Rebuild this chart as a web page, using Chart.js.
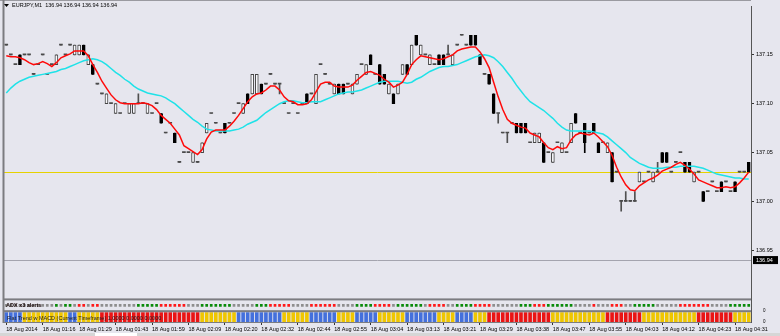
<!DOCTYPE html>
<html>
<head>
<meta charset="utf-8">
<script src="https://cdn.jsdelivr.net/npm/chart.js@4.4.1/dist/chart.umd.min.js"></script>
<style>
  html, body { margin: 0; padding: 0; background: #e6e6ee; }
  #wrap { width: 780px; height: 336px; }
</style>
</head>
<body>
<div id="wrap"><canvas id="chart" width="780" height="336"></canvas></div>
<script>
// EURJPY M1 candles, 18 Aug 2014, with two moving averages and two indicator panes
const symbol = "EURJPY,M1";
const quote = [136.94, 136.94, 136.94, 136.94];
const bidPrice = 136.94;
const levelPrice = 137.03;
const priceTicks = [136.95, 137.0, 137.05, 137.1, 137.15];

// one label every 8 bars
const timeLabels = [
  "18 Aug 2014", "18 Aug 01:16", "18 Aug 01:29", "18 Aug 01:43", "18 Aug 01:59",
  "18 Aug 02:09", "18 Aug 02:20", "18 Aug 02:32", "18 Aug 02:44", "18 Aug 02:55",
  "18 Aug 03:04", "18 Aug 03:13", "18 Aug 03:21", "18 Aug 03:29", "18 Aug 03:38",
  "18 Aug 03:47", "18 Aug 03:55", "18 Aug 04:03", "18 Aug 04:12", "18 Aug 04:23",
  "18 Aug 04:31",
];

const opens = [
  137.16, 137.15, 137.14, 137.15, 137.15, 137.15, 137.13, 137.14, 137.15, 137.13,
  137.14, 137.14, 137.16, 137.15, 137.16, 137.15, 137.15, 137.16, 137.14, 137.14,
  137.12, 137.11, 137.10, 137.10, 137.09, 137.09, 137.10, 137.09, 137.09, 137.10,
  137.10, 137.09, 137.09, 137.10, 137.09, 137.07, 137.08, 137.07, 137.04, 137.05,
  137.05, 137.04, 137.04, 137.05, 137.07, 137.09, 137.08, 137.07, 137.08, 137.08,
  137.09, 137.10, 137.09, 137.11, 137.11, 137.11, 137.12, 137.12, 137.13, 137.12,
  137.12, 137.10, 137.09, 137.10, 137.09, 137.10, 137.11, 137.11, 137.10, 137.14,
  137.13, 137.12, 137.11, 137.12, 137.12, 137.12, 137.11, 137.12, 137.14, 137.13,
  137.15, 137.13, 137.14, 137.13, 137.11, 137.11, 137.11, 137.13, 137.14, 137.14,
  137.17, 137.15, 137.15, 137.14, 137.14, 137.15, 137.15, 137.15, 137.14, 137.16,
  137.17, 137.16, 137.17, 137.17, 137.15, 137.13, 137.13, 137.11, 137.09, 137.07,
  137.07, 137.08, 137.08, 137.08, 137.08, 137.06, 137.06, 137.06, 137.06, 137.05,
  137.04, 137.06, 137.05, 137.05, 137.06, 137.09, 137.07, 137.08, 137.07, 137.08,
  137.06, 137.06, 137.05, 137.05, 137.03, 137.00, 137.00, 137.00, 137.00, 137.02,
  137.02, 137.03, 137.02, 137.03, 137.05, 137.05, 137.03, 137.04, 137.05, 137.04,
  137.04, 137.02, 137.03, 137.01, 137.01, 137.02, 137.01, 137.02, 137.02, 137.01,
  137.02, 137.03, 137.03, 137.04,
];
const closes = [
  137.16, 137.15, 137.14, 137.14, 137.15, 137.15, 137.13, 137.14, 137.15, 137.13,
  137.14, 137.15, 137.16, 137.15, 137.16, 137.16, 137.16, 137.15, 137.15, 137.13,
  137.12, 137.11, 137.11, 137.10, 137.10, 137.09, 137.10, 137.10, 137.10, 137.10,
  137.10, 137.10, 137.09, 137.10, 137.08, 137.07, 137.08, 137.06, 137.04, 137.05,
  137.05, 137.05, 137.04, 137.06, 137.08, 137.09, 137.08, 137.07, 137.07, 137.08,
  137.09, 137.10, 137.10, 137.10, 137.13, 137.13, 137.11, 137.12, 137.13, 137.12,
  137.12, 137.10, 137.09, 137.10, 137.09, 137.10, 137.10, 137.11, 137.13, 137.14,
  137.13, 137.12, 137.12, 137.11, 137.11, 137.12, 137.12, 137.13, 137.14, 137.14,
  137.14, 137.13, 137.12, 137.12, 137.12, 137.10, 137.12, 137.14, 137.13, 137.16,
  137.16, 137.16, 137.15, 137.15, 137.14, 137.14, 137.14, 137.15, 137.15, 137.16,
  137.17, 137.16, 137.16, 137.16, 137.14, 137.13, 137.12, 137.09, 137.09, 137.07,
  137.07, 137.08, 137.07, 137.07, 137.07, 137.06, 137.07, 137.07, 137.04, 137.05,
  137.05, 137.06, 137.06, 137.05, 137.08, 137.08, 137.07, 137.06, 137.07, 137.07,
  137.05, 137.06, 137.06, 137.02, 137.03, 137.00, 137.00, 137.00, 137.00, 137.03,
  137.02, 137.03, 137.03, 137.03, 137.04, 137.04, 137.03, 137.04, 137.05, 137.03,
  137.03, 137.03, 137.03, 137.00, 137.01, 137.02, 137.01, 137.01, 137.02, 137.01,
  137.01, 137.03, 137.03, 137.03,
];
const highs = [
  137.16, 137.15, 137.14, 137.15, 137.15, 137.15, 137.13, 137.14, 137.15, 137.13,
  137.14, 137.15, 137.16, 137.15, 137.16, 137.16, 137.16, 137.16, 137.15, 137.14,
  137.12, 137.11, 137.11, 137.10, 137.10, 137.09, 137.10, 137.10, 137.10, 137.11,
  137.10, 137.10, 137.09, 137.10, 137.09, 137.07, 137.08, 137.07, 137.04, 137.05,
  137.05, 137.05, 137.04, 137.06, 137.08, 137.09, 137.08, 137.07, 137.08, 137.08,
  137.09, 137.10, 137.10, 137.11, 137.13, 137.13, 137.12, 137.12, 137.13, 137.12,
  137.12, 137.10, 137.09, 137.10, 137.09, 137.10, 137.11, 137.11, 137.13, 137.14,
  137.13, 137.12, 137.12, 137.12, 137.12, 137.12, 137.12, 137.13, 137.14, 137.14,
  137.15, 137.13, 137.14, 137.13, 137.12, 137.11, 137.12, 137.14, 137.14, 137.16,
  137.17, 137.16, 137.15, 137.15, 137.14, 137.15, 137.15, 137.16, 137.15, 137.16,
  137.17, 137.16, 137.17, 137.17, 137.15, 137.13, 137.13, 137.11, 137.09, 137.07,
  137.07, 137.08, 137.08, 137.08, 137.08, 137.06, 137.07, 137.07, 137.06, 137.05,
  137.05, 137.06, 137.06, 137.05, 137.08, 137.09, 137.07, 137.08, 137.07, 137.08,
  137.06, 137.06, 137.06, 137.05, 137.03, 137.00, 137.01, 137.00, 137.01, 137.03,
  137.02, 137.03, 137.03, 137.04, 137.05, 137.05, 137.03, 137.04, 137.05, 137.04,
  137.04, 137.03, 137.03, 137.01, 137.01, 137.02, 137.01, 137.02, 137.02, 137.01,
  137.02, 137.03, 137.03, 137.04,
];
const lows = [
  137.16, 137.15, 137.14, 137.14, 137.15, 137.15, 137.13, 137.14, 137.15, 137.13,
  137.14, 137.14, 137.16, 137.15, 137.16, 137.15, 137.15, 137.15, 137.14, 137.13,
  137.12, 137.11, 137.10, 137.10, 137.09, 137.09, 137.10, 137.09, 137.09, 137.10,
  137.10, 137.09, 137.09, 137.10, 137.08, 137.07, 137.08, 137.06, 137.04, 137.05,
  137.05, 137.04, 137.04, 137.05, 137.07, 137.09, 137.08, 137.07, 137.07, 137.08,
  137.09, 137.10, 137.09, 137.10, 137.11, 137.11, 137.11, 137.12, 137.13, 137.12,
  137.11, 137.10, 137.09, 137.10, 137.09, 137.10, 137.10, 137.11, 137.10, 137.14,
  137.13, 137.12, 137.11, 137.11, 137.11, 137.12, 137.11, 137.12, 137.14, 137.13,
  137.14, 137.13, 137.12, 137.12, 137.11, 137.10, 137.11, 137.13, 137.13, 137.14,
  137.16, 137.15, 137.15, 137.14, 137.14, 137.14, 137.14, 137.15, 137.14, 137.16,
  137.17, 137.16, 137.16, 137.16, 137.14, 137.13, 137.12, 137.09, 137.08, 137.07,
  137.06, 137.08, 137.07, 137.07, 137.07, 137.06, 137.06, 137.06, 137.04, 137.05,
  137.04, 137.06, 137.05, 137.05, 137.06, 137.08, 137.07, 137.05, 137.07, 137.07,
  137.05, 137.06, 137.05, 137.02, 137.03, 136.99, 137.00, 137.00, 137.00, 137.02,
  137.02, 137.03, 137.02, 137.03, 137.04, 137.04, 137.03, 137.04, 137.05, 137.03,
  137.03, 137.02, 137.03, 137.00, 137.01, 137.02, 137.01, 137.01, 137.02, 137.01,
  137.01, 137.03, 137.03, 137.03,
];

// red (fast) and cyan (slow) moving averages
const fastMa = [
  137.149, 137.148, 137.148, 137.147, 137.145, 137.142, 137.140, 137.141, 137.143, 137.141,
  137.138, 137.142, 137.147, 137.149, 137.151, 137.154, 137.154, 137.154, 137.149, 137.140,
  137.132, 137.123, 137.116, 137.109, 137.104, 137.101, 137.100, 137.100, 137.100, 137.100,
  137.101, 137.100, 137.098, 137.094, 137.088, 137.084, 137.080, 137.074, 137.068, 137.057,
  137.054, 137.051, 137.048, 137.053, 137.064, 137.071, 137.073, 137.073, 137.073, 137.077,
  137.082, 137.088, 137.095, 137.102, 137.107, 137.110, 137.111, 137.114, 137.118, 137.118,
  137.114, 137.107, 137.103, 137.102, 137.099, 137.099, 137.100, 137.104, 137.112, 137.120,
  137.122, 137.122, 137.118, 137.117, 137.117, 137.117, 137.119, 137.124, 137.128, 137.132,
  137.133, 137.131, 137.129, 137.125, 137.122, 137.117, 137.119, 137.122, 137.130, 137.140,
  137.145, 137.149, 137.148, 137.147, 137.146, 137.145, 137.146, 137.148, 137.150, 137.154,
  137.156, 137.157, 137.158, 137.158, 137.153, 137.146, 137.137, 137.122, 137.107, 137.094,
  137.084, 137.080, 137.078, 137.076, 137.075, 137.070, 137.068, 137.066, 137.060, 137.055,
  137.053, 137.056, 137.054, 137.055, 137.063, 137.068, 137.070, 137.069, 137.068, 137.070,
  137.066, 137.061, 137.056, 137.047, 137.035, 137.025, 137.017, 137.012, 137.011, 137.016,
  137.019, 137.022, 137.024, 137.027, 137.031, 137.033, 137.035, 137.038, 137.040, 137.037,
  137.033, 137.028, 137.022, 137.020, 137.018, 137.016, 137.014, 137.014, 137.015, 137.014,
  137.015, 137.019, 137.024, 137.030,
];
const slowMa = [
  137.111, 137.116, 137.120, 137.123, 137.125, 137.127, 137.128, 137.129, 137.130, 137.131,
  137.132, 137.133, 137.135, 137.136, 137.138, 137.140, 137.142, 137.144, 137.145, 137.146,
  137.145, 137.143, 137.140, 137.136, 137.132, 137.129, 137.125, 137.122, 137.118, 137.115,
  137.113, 137.111, 137.110, 137.109, 137.108, 137.106, 137.103, 137.100, 137.096, 137.092,
  137.088, 137.084, 137.081, 137.077, 137.074, 137.073, 137.072, 137.072, 137.072, 137.072,
  137.073, 137.074, 137.076, 137.079, 137.081, 137.083, 137.087, 137.091, 137.094, 137.097,
  137.100, 137.102, 137.103, 137.103, 137.102, 137.101, 137.101, 137.102, 137.102, 137.102,
  137.104, 137.106, 137.108, 137.110, 137.111, 137.112, 137.112, 137.113, 137.114, 137.116,
  137.118, 137.120, 137.122, 137.123, 137.123, 137.123, 137.123, 137.122, 137.121, 137.122,
  137.125, 137.127, 137.130, 137.133, 137.135, 137.137, 137.138, 137.138, 137.139, 137.140,
  137.142, 137.144, 137.146, 137.148, 137.149, 137.150, 137.149, 137.147, 137.143, 137.138,
  137.132, 137.126, 137.119, 137.113, 137.107, 137.102, 137.099, 137.096, 137.093, 137.089,
  137.085, 137.080, 137.076, 137.073, 137.072, 137.072, 137.072, 137.072, 137.072, 137.071,
  137.070, 137.069, 137.066, 137.062, 137.058, 137.054, 137.050, 137.045, 137.042, 137.039,
  137.037, 137.035, 137.034, 137.034, 137.034, 137.035, 137.035, 137.035, 137.036, 137.036,
  137.036, 137.036, 137.035, 137.034, 137.032, 137.030, 137.028, 137.027, 137.026, 137.025,
  137.024, 137.024, 137.023, 137.023,
];

// ADX x3 alerts: 1 green, -1 red, 0 grey
const adxDots = [
  0, 0, 0, 0, 0, 0, 0, 0, 0, 0,
  0, 1, 0, 1, 1, 0, -1, -1, 0, -1,
  -1, 0, 0, 0, 0, 0, 0, 0, 0, 1,
  1, 1, 1, 1, -1, -1, -1, -1, -1, -1,
  0, 0, 0, 1, 1, 1, 1, 1, 1, 1,
  0, 0, 0, 0, 0, 1, 1, 1, -1, -1,
  -1, -1, -1, 0, 0, 0, 0, -1, -1, -1,
  -1, -1, -1, 0, 0, 0, 0, 1, 1, 1,
  1, -1, -1, -1, -1, 0, 1, 1, 1, 1,
  1, 1, 0, -1, -1, -1, -1, 0, 0, 1,
  1, 1, 1, -1, -1, -1, -1, 0, 0, 0,
  0, 0, 0, 1, 1, 1, -1, -1, -1, 1,
  1, 1, 1, 1, 1, 0, 0, 0, 0, -1,
  0, 0, 0, -1, -1, -1, 0, 0, 1, 1,
  1, 1, 1, 0, 0, 0, 0, 0, -1, -1,
  -1, -1, -1, -1, -1, 0, 0, 0, 0, 1,
  1, 1, 1, 1,
];

// Flat Trend w MACD: 1 up (blue), 0 flat (yellow), -1 down (red)
const trend = [
  1, 1, 1, 1, 0, 0, 0, 0, 0, 0,
  0, 0, 0, 0, 1, 1, 0, 0, 0, 0,
  0, -1, -1, -1, -1, -1, -1, -1, -1, -1,
  -1, -1, -1, -1, -1, -1, -1, -1, -1, -1,
  -1, -1, -1, 0, 0, 0, 0, 0, 0, 0,
  0, 1, 1, 1, 1, 1, 1, 1, 1, 1,
  1, 0, 0, 0, 0, 0, 0, 1, 1, 1,
  1, 1, 1, 0, 0, 0, 0, 1, 1, 1,
  1, 1, 0, 0, 0, 0, 0, 0, 1, 1,
  1, 1, 1, 1, 1, 0, 0, 0, 0, 1,
  1, 1, 1, 0, 0, 0, -1, -1, -1, -1,
  -1, -1, -1, -1, -1, -1, -1, -1, -1, -1,
  0, 0, 0, 0, 0, 0, 0, 0, 0, 0,
  0, 0, -1, -1, -1, -1, -1, -1, -1, -1,
  0, 0, 0, 0, 0, 0, 0, 0, 0, 0,
  0, 0, -1, -1, -1, -1, -1, -1, -1, -1,
  0, 0, 0, 0,
];

const ctx = document.querySelector("#chart").getContext("2d");
const tickFont = { family: "'Liberation Sans', Arial, sans-serif", size: 5.5 };
const bg = "#e6e6ee";

function candleKind(i) {
  if (closes[i] > opens[i]) return "up";
  if (closes[i] < opens[i]) return "down";
  return "doji";
}

const bodyFill = { up: "#f8f8fc", down: "#000000", doji: "#4a4a4a" };
const bodyLine = { up: "#454545", down: "#000000", doji: "#4a4a4a" };
const dotColors = { 1: "#0a8a0a", "-1": "#ff1a1a", 0: "#8e8e8e" };
const trendColors = { 1: "#4470dc", 0: "#efc600", "-1": "#ea1414" };

const mt4Frame = {
  id: "mt4Frame",
  beforeDraw(chart) {
    const c = chart.ctx;
    c.save();
    c.fillStyle = bg;
    c.fillRect(0, 0, chart.width, chart.height);
    c.restore();
  },
  beforeDatasetsDraw(chart) {
    const c = chart.ctx;
    const a = chart.chartArea;
    const y = chart.scales.y;
    c.save();
    c.lineWidth = 1;
    c.strokeStyle = "#e6d200";
    let py = Math.round(y.getPixelForValue(levelPrice)) + 0.5;
    c.beginPath();
    c.moveTo(a.left, py);
    c.lineTo(a.right, py);
    c.stroke();
    c.strokeStyle = "#a4a4ae";
    py = Math.round(y.getPixelForValue(bidPrice)) + 0.5;
    c.beginPath();
    c.moveTo(a.left, py);
    c.lineTo(a.right, py);
    c.stroke();
    c.restore();
  },
  afterDraw(chart) {
    const c = chart.ctx;
    const a = chart.chartArea;
    const y = chart.scales.y;
    const adx = chart.scales.yAdx;
    const tr = chart.scales.yTrend;
    c.save();

    // window frame and pane separators
    c.fillStyle = "#9a9aa0";
    c.fillRect(0, 0, a.right, 1);
    c.fillStyle = "#7c7c80";
    c.fillRect(a.left - 1.5, 0, 2, a.bottom + 1);
    c.fillRect(a.left, y.bottom - 1, a.right - a.left, 2);
    c.fillRect(a.left, adx.bottom - 1, a.right - a.left, 2);

    // terminal tab strip
    c.fillStyle = "#d6d6d6";
    c.fillRect(0, 333, chart.width, 3);
    c.fillStyle = "#ffffff";
    c.fillRect(95, 333, 42, 3);

    // header
    c.fillStyle = "#000";
    c.beginPath();
    c.moveTo(4, 4);
    c.lineTo(9, 4);
    c.lineTo(6.5, 7);
    c.closePath();
    c.fill();
    c.font = "5.5px 'Liberation Sans', Arial, sans-serif";
    c.textBaseline = "middle";
    c.textAlign = "left";
    c.fillText(symbol + "  " + quote.map((q) => q.toFixed(2)).join(" "), 12, 5.5);

    // bid label
    const by = y.getPixelForValue(bidPrice);
    c.fillStyle = "#000";
    c.fillRect(a.right + 2, by - 4, 25, 8);
    c.fillStyle = "#fff";
    c.fillText(bidPrice.toFixed(2), a.right + 5, by + 0.5);

    // indicator names
    c.fillStyle = "#1a0a0a";
    c.font = "bold 5.5px 'Liberation Sans', Arial, sans-serif";
    c.fillText("ADX x3 alerts", a.left + 2, (adx.top + adx.bottom) / 2 + 0.5);
    c.fillStyle = "#1c1c1c";
    c.font = "5.5px 'Liberation Sans', Arial, sans-serif";
    c.fillText("Flat Trend w MACD (Current Timeframe) 1.0000 0.0000 0.0000", a.left + 3, (tr.top + tr.bottom) / 2 + 1.5);

    c.restore();
  },
};

const chart = new Chart(ctx, {
  type: "bar",
  data: {
    labels: opens.map((o, i) => i),
    datasets: [
      {
        label: "wicks",
        data: lows.map((l, i) => [l, highs[i]]),
        backgroundColor: opens.map((o, i) => (candleKind(i) === "down" ? "#000" : "#505050")),
        barThickness: 1,
        grouped: false,
        yAxisID: "y",
        order: 4,
      },
      {
        label: "candles",
        data: opens.map((o, i) => [Math.min(o, closes[i]), Math.max(o, closes[i])]),
        backgroundColor: opens.map((o, i) => bodyFill[candleKind(i)]),
        borderColor: opens.map((o, i) => bodyLine[candleKind(i)]),
        borderWidth: opens.map((o, i) => (candleKind(i) === "doji" ? 0 : 1)),
        borderSkipped: false,
        barThickness: 3,
        minBarLength: 1,
        grouped: false,
        yAxisID: "y",
        order: 3,
      },
      {
        type: "line",
        label: "slow MA",
        data: slowMa,
        borderColor: "#1fe2e8",
        borderWidth: 1.5,
        pointRadius: 0,
        yAxisID: "y",
        order: 2,
      },
      {
        type: "line",
        label: "fast MA",
        data: fastMa,
        borderColor: "#ff0a0a",
        borderWidth: 1.5,
        pointRadius: 0,
        yAxisID: "y",
        order: 1,
      },
      {
        type: "line",
        label: "ADX x3 alerts",
        data: adxDots.map(() => 0.5),
        showLine: false,
        pointStyle: "rect",
        pointRadius: 1.9,
        pointBorderWidth: 0,
        pointBackgroundColor: adxDots.map((d) => dotColors[d]),
        yAxisID: "yAdx",
        order: 1,
      },
      {
        label: "Flat Trend w MACD",
        data: trend.map(() => [0, 1]),
        backgroundColor: trend.map((t) => trendColors[t]),
        barPercentage: 0.8,
        categoryPercentage: 1,
        grouped: false,
        yAxisID: "yTrend",
        order: 5,
      },
    ],
  },
  options: {
    responsive: false,
    animation: false,
    events: [],
    layout: { padding: { left: 2, top: 1, right: 0, bottom: 0 } },
    plugins: { legend: { display: false }, tooltip: { enabled: false } },
    scales: {
      x: {
        type: "category",
        offset: true,
        grid: { display: true, offset: false, drawOnChartArea: false, tickLength: 3, color: "#333" },
        border: { display: true, color: "#7c7c80" },
        ticks: {
          autoSkip: false,
          maxRotation: 0,
          minRotation: 0,
          align: "start",
          padding: 1,
          color: "#000",
          font: tickFont,
          callback: (value) => timeLabels[value / 8],
        },
        afterBuildTicks: (scale) => {
          scale.ticks = scale.ticks.filter((t) => t.value % 8 === 0);
        },
        afterFit: (scale) => {
          scale.height = 14;
        },
      },
      y: {
        type: "linear",
        position: "right",
        stack: "panes",
        stackWeight: 298,
        offset: false,
        min: 136.89975,
        max: 137.19925,
        grid: { display: true, drawOnChartArea: false, tickLength: 3, color: "#333" },
        border: { display: true, color: "#555" },
        ticks: { color: "#000", font: tickFont, padding: 2, callback: (v) => v.toFixed(2) },
        afterBuildTicks: (scale) => {
          scale.ticks = priceTicks.map((v) => ({ value: v }));
        },
        afterFit: (scale) => {
          scale.width = 29;
        },
      },
      yAdx: {
        type: "linear",
        position: "right",
        stack: "panes",
        stackWeight: 12,
        offset: false,
        min: 0,
        max: 1,
        grid: { display: false },
        border: { display: true, color: "#555" },
        ticks: { color: "#000", font: { ...tickFont, size: 4.5 }, padding: 4 },
        afterBuildTicks: (scale) => {
          scale.ticks = [{ value: 0 }, { value: 1 }];
        },
        afterFit: (scale) => {
          scale.width = 29;
        },
      },
      yTrend: {
        type: "linear",
        position: "right",
        stack: "panes",
        stackWeight: 11,
        offset: false,
        min: 0,
        max: 1.1,
        grid: { display: false },
        border: { display: true, color: "#555" },
        ticks: { color: "#000", font: { ...tickFont, size: 4.5 }, padding: 4 },
        afterBuildTicks: (scale) => {
          scale.ticks = [{ value: 0 }, { value: 1 }];
        },
        afterFit: (scale) => {
          scale.width = 29;
        },
      },
    },
  },
  plugins: [mt4Frame],
});
</script>
</body>
</html>
